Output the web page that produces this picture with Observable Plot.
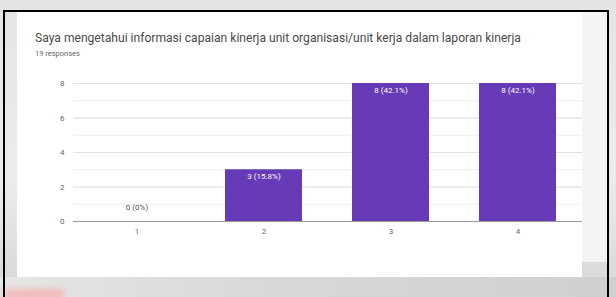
<!DOCTYPE html>
<html>
<head>
<meta charset="utf-8">
<script src="https://cdn.jsdelivr.net/npm/d3@7"></script>
<script src="https://cdn.jsdelivr.net/npm/@observablehq/plot@0.6"></script>
<style>
  html, body { margin: 0; padding: 0; }
  body { width: 616px; height: 297px; position: relative; overflow: hidden;
         background: linear-gradient(180deg, #e4e4e4 0%, #ececec 60%, #d6d6d6 100%);
         font-family: Roboto, "Noto Sans", sans-serif; }
  #side { position: absolute; left: 582px; top: 12px; width: 25px; height: 250px; background: #f4f4f4; }
  #bottom { position: absolute; left: 0; top: 277px; width: 616px; height: 20px;
            background: linear-gradient(90deg, #e6e6e6 0%, #d9d9d9 40%, #cfcfcf 100%); }
  #blob { position: absolute; left: 4px; top: 289px; width: 60px; height: 10px; background: #f4b8b8; filter: blur(3px); }
  #card { position: absolute; left: 17px; top: 12px; width: 565px; height: 265px; background: #fff; }
  #title { position: absolute; left: 18px; top: 19px; font-size: 12.1px; color: #4a4a4a; white-space: nowrap; }
  #sub { position: absolute; left: 18px; top: 37px; font-size: 7.5px; color: #666; white-space: nowrap; }
  #chart { position: absolute; left: 0; top: 53px; }
  .fl { position: absolute; background: #000; }
</style>
</head>
<body>
<div id="side"></div>
<div id="bottom"></div>
<div id="blob"></div>
<div id="card">
  <div id="title">Saya mengetahui informasi capaian kinerja unit organisasi/unit kerja dalam laporan kinerja</div>
  <div id="sub">19 responses</div>
  <div id="chart"></div>
</div>
<div class="fl" style="left:3px;top:10px;width:2px;height:287px;"></div>
<div class="fl" style="left:3px;top:10px;width:606px;height:2px;"></div>
<div class="fl" style="left:607px;top:10px;width:2px;height:287px;"></div>
<script>
const categories = ["1", "2", "3", "4"];
const counts = [0, 3, 8, 8];
const labels = ["0 (0%)", "3 (15.8%)", "8 (42.1%)", "8 (42.1%)"];
const yTicks = [0, 2, 4, 6, 8];

const data = categories.map((c, i) => ({cat: c, n: counts[i], label: labels[i]}));

const chart = Plot.plot({
  width: 565,
  height: 185,
  marginLeft: 56,
  marginRight: 0,
  marginTop: 18,
  marginBottom: 29,
  style: {fontFamily: "Roboto, sans-serif", fontSize: "8px", color: "#666", background: "transparent"},
  x: {domain: categories, paddingInner: 0.39, paddingOuter: 0.195, label: null, tickSize: 0, tickPadding: 7},
  y: {domain: [0, 8], ticks: yTicks, label: null, tickSize: 0, tickPadding: 9},
  marks: [
    Plot.ruleY(d3.range(1, 9), {stroke: "#efefef"}),
    Plot.gridY(yTicks.filter(t => t > 0), {stroke: "#e2e2e2", strokeOpacity: 1}),
    Plot.barY(data, {x: "cat", y: "n", fill: "#673ab7"}),
    Plot.ruleY([0], {stroke: "#9a9a9a", strokeWidth: 1}),
    Plot.text(data.filter(d => d.n > 0), {x: "cat", y: "n", text: "label", fill: "#fff", dy: 7, fontSize: 8}),
    Plot.text(data.filter(d => d.n === 0), {x: "cat", y: "n", text: "label", fill: "#555", dy: -14, fontSize: 8})
  ]
});
document.getElementById("chart").appendChild(chart);
</script>
</body>
</html>
